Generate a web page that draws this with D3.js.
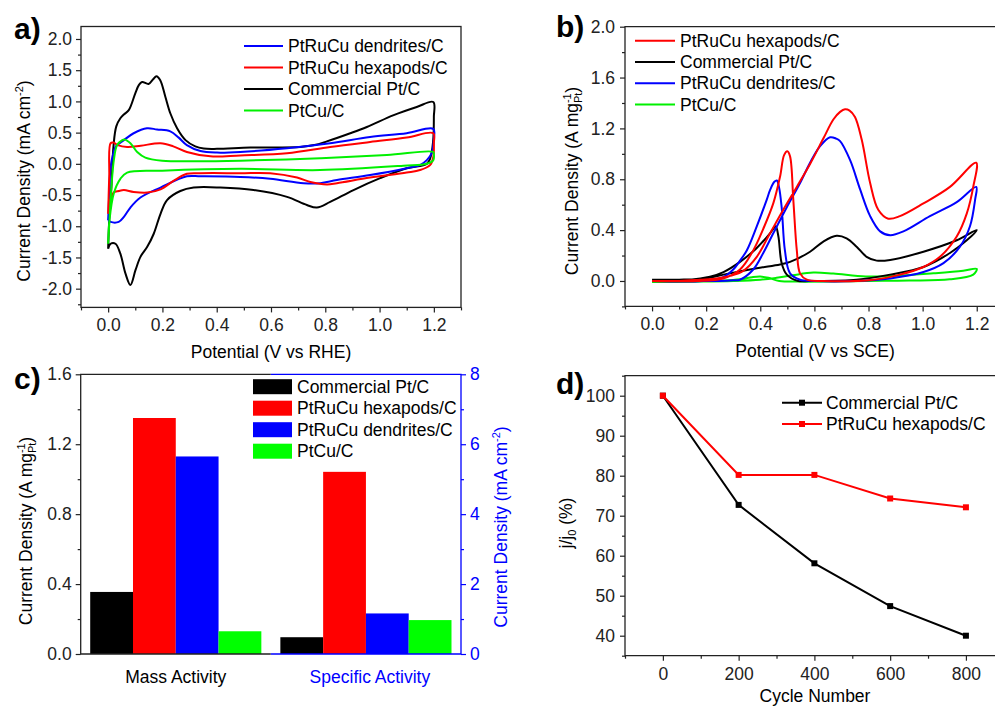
<html>
<head>
  <script type="text/javascript" src="https://d3js.org/d3.v7.min.js"></script>
  <style>
      body { margin: 0; background: #fff; }
      svg text { font-family: "Liberation Sans", Arial, sans-serif; }
  </style>
</head>
<body>
<div id="chart"></div>
<script>
    // ---- panel a: CV in acid (V vs RHE, mA cm-2), [potential, current] ----
    let cvA_commercial = [[0,-1.36],[0.004,-0.9],[0.012,-0.37],[0.02,0.3],[0.03,0.6],[0.045,0.73],[0.058,0.79],[0.076,0.86],[0.1,1.13],[0.113,1.26],[0.125,1.31],[0.149,1.28],[0.165,1.35],[0.178,1.405],[0.192,1.34],[0.211,1.07],[0.229,0.81],[0.254,0.57],[0.285,0.38],[0.321,0.28],[0.352,0.245],[0.401,0.24],[0.524,0.26],[0.708,0.27],[0.76,0.3],[0.806,0.36],[0.892,0.49],[0.953,0.59],[1.052,0.78],[1.137,0.91],[1.198,0.99],[1.2,0.75],[1.197,0.35],[1.186,0.08],[1.174,0.0],[1.1,-0.07],[1.002,-0.23],[0.904,-0.42],[0.818,-0.61],[0.769,-0.70],[0.732,-0.66],[0.659,-0.53],[0.536,-0.42],[0.413,-0.38],[0.315,-0.38],[0.266,-0.435],[0.217,-0.58],[0.193,-0.80],[0.168,-1.12],[0.144,-1.33],[0.119,-1.49],[0.101,-1.70],[0.082,-1.94],[0.064,-1.76],[0.045,-1.44],[0.027,-1.28],[0.009,-1.28],[0,-1.36]];
    let cvA_dendrites = [[0,-0.9],[0.004,-0.5],[0.009,-0.05],[0.018,0.15],[0.027,0.27],[0.058,0.38],[0.094,0.49],[0.143,0.57],[0.18,0.55],[0.229,0.52],[0.26,0.42],[0.29,0.30],[0.34,0.205],[0.401,0.18],[0.487,0.19],[0.659,0.25],[0.818,0.33],[0.965,0.43],[1.1,0.49],[1.198,0.56],[1.2,0.4],[1.192,0.17],[1.174,0.06],[1.149,-0.02],[1.1,-0.07],[0.965,-0.18],[0.843,-0.26],[0.781,-0.31],[0.72,-0.31],[0.597,-0.24],[0.487,-0.21],[0.34,-0.2],[0.29,-0.2],[0.193,-0.38],[0.119,-0.54],[0.082,-0.7],[0.058,-0.85],[0.039,-0.93],[0.009,-0.93],[0,-0.9]];
    let cvA_hexapods = [[0,-0.8],[0.004,-0.2],[0.009,0.33],[0.02,0.34],[0.035,0.3],[0.07,0.27],[0.12,0.29],[0.193,0.33],[0.24,0.28],[0.29,0.19],[0.377,0.12],[0.487,0.135],[0.659,0.17],[0.818,0.27],[0.965,0.35],[1.1,0.42],[1.198,0.49],[1.2,0.33],[1.198,0.11],[1.186,-0.02],[1.149,-0.1],[1.1,-0.14],[0.965,-0.22],[0.843,-0.31],[0.806,-0.33],[0.745,-0.29],[0.696,-0.22],[0.597,-0.15],[0.487,-0.15],[0.34,-0.15],[0.29,-0.16],[0.242,-0.27],[0.193,-0.41],[0.144,-0.46],[0.094,-0.45],[0.058,-0.42],[0.039,-0.435],[0.02,-0.46],[0.009,-0.58],[0,-0.8]];
    let cvA_ptcu = [[0,-1.28],[0.005,-0.9],[0.009,-0.58],[0.021,0.06],[0.033,0.30],[0.052,0.38],[0.06,0.39],[0.082,0.33],[0.107,0.19],[0.137,0.1],[0.199,0.05],[0.321,0.04],[0.487,0.05],[0.781,0.09],[1.027,0.14],[1.198,0.19],[1.2,0.15],[1.198,0.06],[1.174,0.0],[1.088,-0.03],[0.781,-0.1],[0.487,-0.08],[0.199,-0.11],[0.07,-0.14],[0.045,-0.24],[0.021,-0.47],[0.005,-0.9],[0,-1.28]];

    // ---- panel b: CV in methanol (V vs SCE, A mg-1) ----
    let cvB_hexapods = [[0,0.0],[0.1,0.0],[0.177,0.01],[0.239,0.02],[0.288,0.04],[0.337,0.08],[0.387,0.19],[0.436,0.375],[0.485,0.56],[0.535,0.74],[0.584,0.92],[0.633,1.12],[0.67,1.27],[0.695,1.33],[0.713,1.35],[0.73,1.34],[0.75,1.29],[0.775,1.11],[0.806,0.77],[0.836,0.56],[0.873,0.49],[0.916,0.51],[1.003,0.61],[1.101,0.74],[1.198,0.93],[1.187,0.74],[1.163,0.53],[1.126,0.35],[1.064,0.19],[1.003,0.11],[0.916,0.05],[0.818,0.01],[0.633,0.0],[0.572,0.01],[0.547,0.06],[0.535,0.24],[0.522,0.64],[0.51,0.98],[0.5,1.02],[0.488,0.99],[0.473,0.82],[0.448,0.61],[0.411,0.41],[0.374,0.24],[0.325,0.09],[0.263,0.02],[0.165,0.0],[0,0.0]];
    let cvB_commercial = [[0,0.01],[0.1,0.01],[0.2,0.02],[0.264,0.05],[0.387,0.1],[0.473,0.13],[0.51,0.15],[0.584,0.23],[0.633,0.31],[0.682,0.355],[0.719,0.335],[0.756,0.27],[0.793,0.19],[0.83,0.16],[0.88,0.165],[1.003,0.23],[1.126,0.32],[1.2,0.4],[1.163,0.32],[1.101,0.22],[1.003,0.11],[0.88,0.05],[0.756,0.01],[0.58,0.0],[0.54,0.0],[0.498,0.05],[0.479,0.14],[0.467,0.35],[0.457,0.43],[0.448,0.41],[0.436,0.375],[0.387,0.26],[0.325,0.15],[0.264,0.07],[0.214,0.034],[0.14,0.01],[0,0.01]];
    let cvB_dendrites = [[0,0.0],[0.15,0.0],[0.25,0.0],[0.3,0.005],[0.325,0.01],[0.374,0.09],[0.411,0.22],[0.448,0.375],[0.498,0.58],[0.547,0.77],[0.584,0.93],[0.621,1.06],[0.658,1.13],[0.68,1.12],[0.695,1.10],[0.732,0.95],[0.769,0.72],[0.806,0.51],[0.843,0.39],[0.88,0.36],[0.929,0.39],[1.027,0.51],[1.126,0.62],[1.198,0.74],[1.194,0.64],[1.175,0.43],[1.138,0.27],[1.077,0.14],[1.003,0.07],[0.88,0.02],[0.756,0.0],[0.6,0.0],[0.547,0.01],[0.51,0.06],[0.491,0.24],[0.479,0.58],[0.469,0.74],[0.461,0.79],[0.452,0.78],[0.436,0.715],[0.424,0.64],[0.387,0.43],[0.35,0.24],[0.325,0.16],[0.3,0.09],[0.263,0.03],[0.19,0.0],[0,0.0]];
    let cvB_ptcu = [[0,-0.008],[0.18,-0.005],[0.3,0.0],[0.4,0.01],[0.46,0.025],[0.52,0.045],[0.596,0.066],[0.67,0.058],[0.79,0.035],[0.9,0.04],[1.04,0.06],[1.15,0.08],[1.2,0.095],[1.187,0.05],[1.1,0.013],[0.95,0.003],[0.79,0.0],[0.55,-0.005],[0.47,0.0],[0.43,0.025],[0.4,0.035],[0.37,0.03],[0.325,0.013],[0.18,-0.005],[0,-0.008]];

    // ---- panel c: activities ----
    let catalysts = ["Commercial Pt/C", "PtRuCu hexapods/C", "PtRuCu dendrites/C", "PtCu/C"];
    let activityGroups = ["Mass Activity", "Specific Activity"];
    let massActivity = [0.355, 1.35, 1.13, 0.13];      // A mg-1 (left axis)
    let specificActivity = [0.48, 5.21, 1.16, 0.97];   // mA cm-2 (right axis)

    // ---- panel d: durability ----
    let cycles = [0, 200, 400, 600, 800];
    let retainCommercial = [100, 72.7, 58.1, 47.4, 40.0];
    let retainHexapods = [100, 80.2, 80.2, 74.3, 72.1];

    // tick values
    let aXMajor = [0, 0.2, 0.4, 0.6, 0.8, 1.0, 1.2];
    let aXMinor = [-0.1, 0.1, 0.3, 0.5, 0.7, 0.9, 1.1, 1.3];
    let aYMajor = [-2, -1.5, -1, -0.5, 0, 0.5, 1, 1.5, 2];
    let aYMinor = [-2.25, -1.75, -1.25, -0.75, -0.25, 0.25, 0.75, 1.25, 1.75];
    let bYMajor = [0, 0.4, 0.8, 1.2, 1.6, 2.0];
    let bYMinor = [-0.2, 0.2, 0.6, 1.0, 1.4, 1.8];
    let cYMajor = [0, 0.4, 0.8, 1.2, 1.6];
    let cYMinor = [0.2, 0.6, 1.0, 1.4];
    let cY2Major = [0, 2, 4, 6, 8];
    let cY2Minor = [1, 3, 5, 7];
    let dXMajor = [0, 200, 400, 600, 800];
    let dXMinor = [-100, 100, 300, 500, 700, 900];
    let dYMajor = [40, 50, 60, 70, 80, 90, 100];
    let dYMinor = [35, 45, 55, 65, 75, 85, 95, 105];

    const FONT = 17.5;
    const AX = "#222";
    const GREEN = "#00f000";
    const svg = d3.select('#chart').append('svg')
        .attr('width', 995).attr('height', 708);

    const fmt1 = d => d.toFixed(1);

    // draws major (with labels) and minor ticks of one axis
    function ticks(g, axisFn, scale, major, minor, format, pad, color) {
        color = color || AX;
        let a = g.append("g").call(axisFn(scale).tickValues(major).tickSize(5).tickPadding(pad).tickFormat(format));
        let b = g.append("g").call(axisFn(scale).tickValues(minor).tickSize(3).tickFormat(""));
        [a, b].forEach(s => {
            s.select(".domain").remove();
            s.selectAll("line").attr("stroke", color).attr("stroke-width", 1.2);
            s.selectAll("text").attr("font-size", FONT).attr("fill", color)
                .attr("font-family", '"Liberation Sans", Arial, sans-serif');
        });
    }

    function panelLabel(txt, x, y) {
        svg.append("text").attr("x", x).attr("y", y).attr("font-size", 30)
            .attr("font-weight", "bold").text(txt);
    }

    function yTitle(x, y, color) {
        return svg.append("text").attr("transform", `translate(${x},${y}) rotate(-90)`)
            .attr("text-anchor", "middle").attr("font-size", FONT).attr("fill", color || "#000");
    }

    function sub(t, s, up) {
        t.append("tspan").attr("font-size", 11).attr("dy", up ? -7 : 4).text(s);
    }

    // ================= panel a =================
    {
        const x = d3.scaleLinear().domain([-0.1, 1.3]).range([81, 461]);
        const y = d3.scaleLinear().domain([-2.3, 2.2]).range([307.4, 26.5]);
        const line = d3.line().x(d => x(d[0])).y(d => y(d[1])).curve(d3.curveCatmullRom.alpha(0.5));
        const series = [[cvA_commercial, "#000"], [cvA_dendrites, "#0000ff"], [cvA_hexapods, "#ff0000"], [cvA_ptcu, GREEN]];
        series.forEach(s => svg.append("path").attr("d", line(s[0])).attr("fill", "none")
            .attr("stroke", s[1]).attr("stroke-width", 2));

        svg.append("rect").attr("x", 81).attr("y", 26.5).attr("width", 380).attr("height", 280.9)
            .attr("fill", "none").attr("stroke", AX).attr("stroke-width", 1.3);
        ticks(svg.append("g").attr("transform", "translate(0,307.4)"), d3.axisBottom, x, aXMajor, aXMinor, fmt1, 6);
        ticks(svg.append("g").attr("transform", "translate(81,0)"), d3.axisLeft, y, aYMajor, aYMinor, fmt1, 4);

        const leg = [["PtRuCu dendrites/C", "#0000ff"], ["PtRuCu hexapods/C", "#ff0000"], ["Commercial Pt/C", "#000"], ["PtCu/C", GREEN]];
        leg.forEach((l, i) => {
            let yy = 46 + i * 21.5;
            svg.append("line").attr("x1", 244).attr("x2", 283).attr("y1", yy).attr("y2", yy)
                .attr("stroke", l[1]).attr("stroke-width", 2);
            svg.append("text").attr("x", 288).attr("y", yy + 6).attr("font-size", FONT).text(l[0]);
        });

        svg.append("text").attr("x", 271).attr("y", 358).attr("text-anchor", "middle")
            .attr("font-size", FONT).text("Potential (V vs RHE)");
        let t = yTitle(30, 181);
        t.append("tspan").text("Current Density (mA cm");
        sub(t, "-2", true);
        t.append("tspan").attr("dy", 7).text(")");
        panelLabel("a)", 14, 39);
    }

    // ================= panel b =================
    {
        const x = d3.scaleLinear().domain([-0.1, 1.3]).range([625, 1003.8]);
        const y = d3.scaleLinear().domain([-0.2, 2.0]).range([306.4, 26.7]);
        const line = d3.line().x(d => x(d[0])).y(d => y(d[1])).curve(d3.curveCatmullRom.alpha(0.5));
        const series = [[cvB_ptcu, GREEN], [cvB_commercial, "#000"], [cvB_dendrites, "#0000ff"], [cvB_hexapods, "#ff0000"]];
        series.forEach(s => svg.append("path").attr("d", line(s[0])).attr("fill", "none")
            .attr("stroke", s[1]).attr("stroke-width", 2));

        svg.append("path").attr("d", "M1004,26.7H625V306.4H1004").attr("fill", "none")
            .attr("stroke", AX).attr("stroke-width", 1.3);
        ticks(svg.append("g").attr("transform", "translate(0,306.4)"), d3.axisBottom, x, aXMajor, aXMinor, fmt1, 6);
        ticks(svg.append("g").attr("transform", "translate(625,0)"), d3.axisLeft, y, bYMajor, bYMinor, fmt1, 5);

        const leg = [["PtRuCu hexapods/C", "#ff0000"], ["Commercial Pt/C", "#000"], ["PtRuCu dendrites/C", "#0000ff"], ["PtCu/C", GREEN]];
        leg.forEach((l, i) => {
            let yy = 40.7 + i * 21.3;
            svg.append("line").attr("x1", 635).attr("x2", 675).attr("y1", yy).attr("y2", yy)
                .attr("stroke", l[1]).attr("stroke-width", 2);
            svg.append("text").attr("x", 680).attr("y", yy + 6).attr("font-size", FONT).text(l[0]);
        });

        svg.append("text").attr("x", 815).attr("y", 357).attr("text-anchor", "middle")
            .attr("font-size", FONT).text("Potential (V vs SCE)");
        let t = yTitle(578, 181);
        t.append("tspan").text("Current Density (A mg");
        sub(t, "-1", true);
        t.append("tspan").attr("font-size", 11).attr("dx", -9.8).attr("dy", 11).text("Pt");
        t.append("tspan").attr("dy", -4).text(")");
        panelLabel("b)", 556, 37);
    }

    // ================= panel c =================
    {
        const x0 = d3.scaleBand().domain(activityGroups).range([80.7, 461]).paddingInner(0.1).paddingOuter(0.05);
        const x1 = d3.scaleBand().domain(catalysts).range([0, x0.bandwidth()]);
        const y = d3.scaleLinear().domain([0, 1.6]).range([654, 374.3]);
        const y2 = d3.scaleLinear().domain([0, 8]).range([654, 374.3]);
        const colors = ["#000", "#ff0000", "#0000ff", "#00ff00"];

        catalysts.forEach((c, i) => {
            svg.append("rect").attr("x", x0("Mass Activity") + x1(c)).attr("width", x1.bandwidth())
                .attr("y", y(massActivity[i])).attr("height", 654 - y(massActivity[i])).attr("fill", colors[i]);
            svg.append("rect").attr("x", x0("Specific Activity") + x1(c)).attr("width", x1.bandwidth())
                .attr("y", y2(specificActivity[i])).attr("height", 654 - y2(specificActivity[i])).attr("fill", colors[i]);
        });

        const mid = 270.8;
        svg.append("path").attr("d", `M${mid},374.3H80.7V654H${mid}`).attr("fill", "none")
            .attr("stroke", AX).attr("stroke-width", 1.3);
        svg.append("path").attr("d", `M${mid},374.3H461V654H${mid}`).attr("fill", "none")
            .attr("stroke", "#0000ff").attr("stroke-width", 1.3);
        ticks(svg.append("g").attr("transform", "translate(80.7,0)"), d3.axisLeft, y, cYMajor, cYMinor, fmt1, 4);
        ticks(svg.append("g").attr("transform", "translate(461,0)"), d3.axisRight, y2, cY2Major, cY2Minor, d => d, 4, "#0000ff");

        svg.append("text").attr("x", x0("Mass Activity") + x0.bandwidth() / 2).attr("y", 683)
            .attr("text-anchor", "middle").attr("font-size", FONT).text("Mass Activity");
        svg.append("text").attr("x", x0("Specific Activity") + x0.bandwidth() / 2 + 4).attr("y", 683)
            .attr("text-anchor", "middle").attr("font-size", FONT).attr("fill", "#0000ff").text("Specific Activity");

        catalysts.forEach((c, i) => {
            let yy = 386.7 + i * 21.5;
            svg.append("rect").attr("x", 253).attr("y", yy - 7.5).attr("width", 39).attr("height", 15).attr("fill", colors[i]);
            svg.append("text").attr("x", 297).attr("y", yy + 6).attr("font-size", FONT).text(c);
        });

        let t = yTitle(32, 531);
        t.append("tspan").text("Current Density (A mg");
        sub(t, "-1", true);
        t.append("tspan").attr("font-size", 11).attr("dx", -9.8).attr("dy", 11).text("Pt");
        t.append("tspan").attr("dy", -4).text(")");

        let t2 = yTitle(507, 527, "#0000ff");
        t2.append("tspan").text("Current Density (mA cm");
        sub(t2, "-2", true);
        t2.append("tspan").attr("dy", 7).text(")");
        panelLabel("c)", 14, 389);
    }

    // ================= panel d =================
    {
        const x = d3.scaleLinear().domain([-100, 900]).range([625, 1003.8]);
        const y = d3.scaleLinear().domain([35, 105]).range([655.7, 375.7]);
        const line = d3.line().x(d => x(d[0])).y(d => y(d[1]));
        const sets = [[retainCommercial, "#000"], [retainHexapods, "#ff0000"]];
        sets.forEach(s => {
            let pts = cycles.map((c, i) => [c, s[0][i]]);
            svg.append("path").attr("d", line(pts)).attr("fill", "none").attr("stroke", s[1]).attr("stroke-width", 2);
            svg.selectAll(null).data(pts).enter().append("rect")
                .attr("x", d => x(d[0]) - 3).attr("y", d => y(d[1]) - 3)
                .attr("width", 6).attr("height", 6).attr("fill", s[1]);
        });

        svg.append("path").attr("d", "M1004,375.7H625V655.7H1004").attr("fill", "none")
            .attr("stroke", AX).attr("stroke-width", 1.3);
        ticks(svg.append("g").attr("transform", "translate(0,655.7)"), d3.axisBottom, x, dXMajor, dXMinor, d => d, 7);
        ticks(svg.append("g").attr("transform", "translate(625,0)"), d3.axisLeft, y, dYMajor, dYMinor, d => d, 5);

        const leg = [["Commercial Pt/C", "#000"], ["PtRuCu hexapods/C", "#ff0000"]];
        leg.forEach((l, i) => {
            let yy = 402.7 + i * 21.3;
            svg.append("line").attr("x1", 782).attr("x2", 822).attr("y1", yy).attr("y2", yy)
                .attr("stroke", l[1]).attr("stroke-width", 2);
            svg.append("rect").attr("x", 799).attr("y", yy - 3).attr("width", 6).attr("height", 6).attr("fill", l[1]);
            svg.append("text").attr("x", 826).attr("y", yy + 6).attr("font-size", FONT).text(l[0]);
        });

        svg.append("text").attr("x", 815).attr("y", 702).attr("text-anchor", "middle")
            .attr("font-size", FONT).text("Cycle Number");
        let t = yTitle(572, 523);
        t.append("tspan").text("j/j");
        sub(t, "0", false);
        t.append("tspan").attr("dy", -4).text(" (%)");
        panelLabel("d)", 556, 394);
    }
</script>
</body>
</html>
